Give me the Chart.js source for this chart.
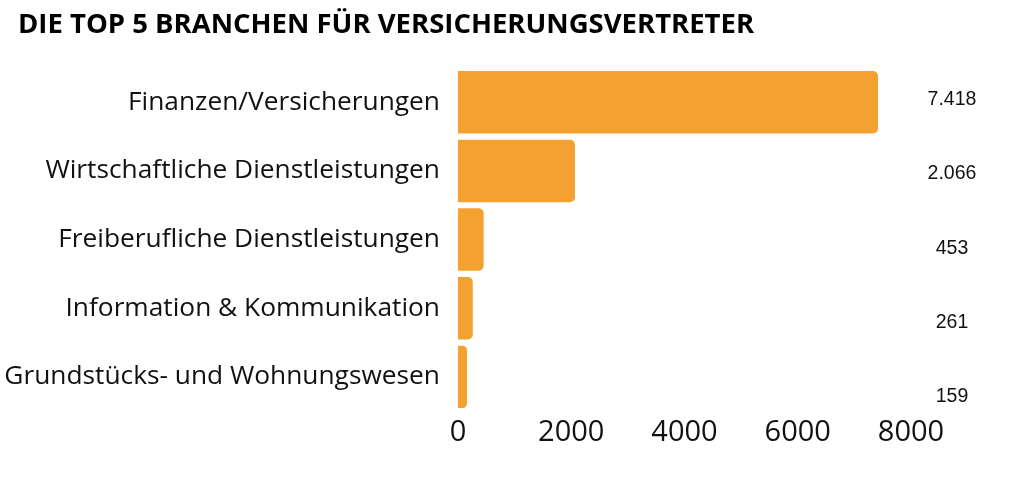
<!DOCTYPE html>
<html>
<head>
<meta charset="utf-8">
<script src="https://cdn.jsdelivr.net/npm/chart.js@4"></script>
<style>
  html, body { margin: 0; padding: 0; background: #fff; }
  #wrap { width: 1024px; height: 494px; }
</style>
</head>
<body>
<div id="wrap"><canvas id="chart"></canvas></div>
<script>
// Branchen und Anzahl Versicherungsvertreter
const branchen = [
    'Finanzen/Versicherungen',
    'Wirtschaftliche Dienstleistungen',
    'Freiberufliche Dienstleistungen',
    'Information & Kommunikation',
    'Grundstücks- und Wohnungswesen'
];
const anzahl = [7418, 2066, 453, 261, 159];
const anzahlText = ['7.418', '2.066', '453', '261', '159'];
const xTicks = [0, 2000, 4000, 6000, 8000];
const titel = 'DIE TOP 5 BRANCHEN FÜR VERSICHERUNGSVERTRETER';

// title in top left corner (space reserved by layout padding)
const titlePlugin = {
    id: 'titleLeft',
    afterDraw(chart) {
        const ctx = chart.ctx;
        ctx.save();
        ctx.font = 'bold 27.5px "Open Sans", sans-serif';
        ctx.fillStyle = '#000';
        ctx.textAlign = 'left';
        ctx.textBaseline = 'middle';
        ctx.fillText(titel, 18, 25);
        ctx.restore();
    }
};

// value labels right of the plot
const valueLabels = {
    id: 'valueLabels',
    afterDatasetsDraw(chart) {
        const ctx = chart.ctx;
        const area = chart.chartArea;
        const y = chart.scales.y;
        ctx.save();
        ctx.font = '19.5px "Liberation Sans", Arial, sans-serif';
        ctx.fillStyle = '#111';
        ctx.textAlign = 'center';
        ctx.textBaseline = 'middle';
        anzahlText.forEach((t, i) => {
            ctx.fillText(t, area.right + 41, y.getPixelForValue(i) - 3 + i * 5.8);
        });
        ctx.restore();
    }
};

new Chart(document.getElementById('chart'), {
    type: 'bar',
    data: {
        labels: branchen,
        datasets: [{
            data: anzahl,
            backgroundColor: '#F3A232',
            borderRadius: 5,
            borderSkipped: 'start',
            barPercentage: 0.91,
            categoryPercentage: 1.0
        }]
    },
    options: {
        indexAxis: 'y',
        responsive: true,
        maintainAspectRatio: false,
        animation: false,
        layout: {
            padding: { left: 0, right: 113, top: 68, bottom: 40 }
        },
        plugins: {
            legend: { display: false },
            tooltip: { enabled: false },
            title: { display: false }
        },
        scales: {
            x: {
                min: 0,
                max: 8000,
                afterBuildTicks(scale) {
                    scale.ticks = xTicks.map(v => ({ value: v }));
                },
                grid: { display: false, drawTicks: false },
                border: { display: false },
                ticks: {
                    color: '#111',
                    padding: 4,
                    maxRotation: 0,
                    font: { family: '"Open Sans", sans-serif', size: 29 },
                    callback: v => String(v)
                }
            },
            y: {
                afterFit(scale) { scale.width = 458; },
                grid: { display: false, drawTicks: false },
                border: { display: false },
                ticks: {
                    color: '#111',
                    padding: 18,
                    font: { family: '"Open Sans", sans-serif', size: 26.3 }
                }
            }
        }
    },
    plugins: [valueLabels, titlePlugin]
});
</script>
</body>
</html>
